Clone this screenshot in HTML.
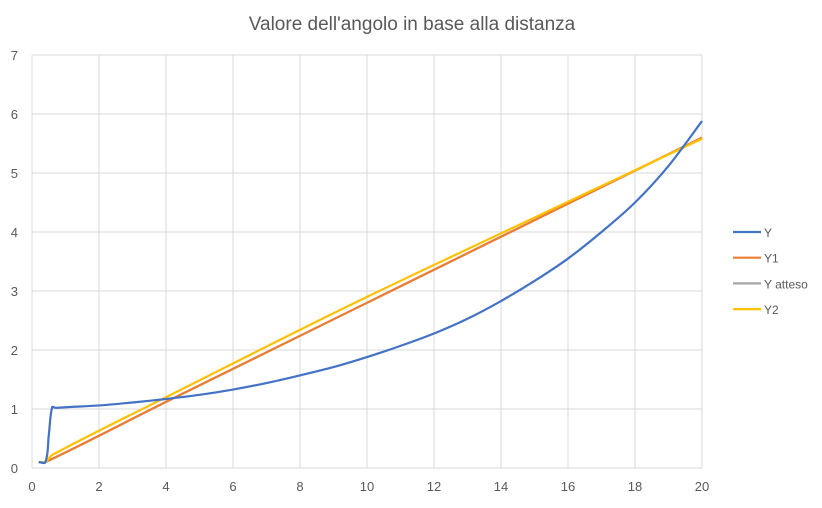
<!DOCTYPE html>
<html><head><meta charset="utf-8"><style>
body{margin:0;background:#fff;font-family:"Liberation Sans",sans-serif}
</style></head><body>
<svg width="822" height="503" id="svg">
<text x="412" y="30" text-anchor="middle" font-size="19" fill="#595959">Valore dell'angolo in base alla distanza</text>
<g id="grid"></g><g id="series"></g><g id="legend"></g>
</svg>
<script>
const xTicks=[0,2,4,6,8,10,12,14,16,18,20];
const yTicks=[0,1,2,3,4,5,6,7];
const seriesNames=["Y","Y1","Y atteso","Y2"];
const seriesColors=["#4472c4","#ed7d31","#a5a5a5","#ffc000"];
const yX=[0.2,0.4,0.5,0.6,0.7,1,2,3,4,5,6,7,8,9,10,11,12,13,14,15,16,17,18,19,20];
const yV=[0.1,0.1,0.55,1.03,1.02,1.03,1.06,1.11,1.17,1.24,1.33,1.44,1.57,1.71,1.88,2.07,2.28,2.53,2.83,3.17,3.55,4.0,4.5,5.12,5.88];
const y1X=[0.2,0.4,4,10,20];
const y1V=[0.1,0.1,1.12,2.8,5.6];
const yaX=[0.2,0.4,4,10,20];
const yaV=[0.1,0.1,1.12,2.8,5.6];
const y2X=[0.2,0.4,0.6,4,10,20];
const y2V=[0.1,0.1,0.22,1.2,2.9,5.58];
const NS="http://www.w3.org/2000/svg";
const sx=v=>32+v*(702-32)/20;
const sy=v=>468-v*(468-55)/7;
const grid=document.getElementById('grid');
function mk(tag,attrs,parent){const e=document.createElementNS(NS,tag);for(const k in attrs)e.setAttribute(k,attrs[k]);parent.appendChild(e);return e;}
xTicks.forEach(t=>{
 const l=mk('line',{x1:sx(t),x2:sx(t),y1:55,y2:468,stroke:'#d9d9d9','stroke-width':1},grid);
 
 
 const tx=mk('text',{x:sx(t),y:491,'text-anchor':'middle','font-size':13,fill:'#595959'},grid);
 tx.textContent=t;
 
 
});
yTicks.forEach(t=>{
 const l=mk('line',{x1:32,x2:702,y1:sy(t),y2:sy(t),stroke:'#d9d9d9','stroke-width':1},grid);
 
 
 const tx=mk('text',{x:18,y:sy(t)+5,'text-anchor':'end','font-size':13,fill:'#595959'},grid);
 tx.textContent=t;
 
 
});
function smooth(pts){
 let d='M'+pts[0][0]+','+pts[0][1];
 const n=pts.length;
 const tang=pts.map((p,i)=>{
  const a=pts[Math.max(0,i-1)],b=pts[Math.min(n-1,i+1)];
  const dx=b[0]-a[0],dy=b[1]-a[1],L=Math.hypot(dx,dy)||1;
  return [dx/L,dy/L];
 });
 for(let i=0;i<n-1;i++){
  const p1=pts[i],p2=pts[i+1];
  const s=Math.hypot(p2[0]-p1[0],p2[1]-p1[1])/3;
  const c1=[p1[0]+tang[i][0]*s,p1[1]+tang[i][1]*s];
  const c2=[p2[0]-tang[i+1][0]*s,p2[1]-tang[i+1][1]*s];
  d+=' C'+c1[0]+','+c1[1]+' '+c2[0]+','+c2[1]+' '+p2[0]+','+p2[1];
 }
 return d;
}
const sg=document.getElementById('series');
const data=[[yX,yV],[y1X,y1V],[yaX,yaV],[y2X,y2V]];
const order=[2,1,3,0];
order.forEach(i=>{
 const [xs,vs]=data[i];
 const pts=xs.map((x,j)=>[sx(x),sy(vs[j])]);
 const p=mk('path',{d:smooth(pts),fill:'none',stroke:seriesColors[i],'stroke-width':2.2,'stroke-linejoin':'round'},sg);
 
 
});
const lg=document.getElementById('legend');
seriesNames.forEach((n,i)=>{
 const y=232+i*25.7;
 const l=mk('line',{x1:733,x2:761,y1:y,y2:y,stroke:seriesColors[i],'stroke-width':2.2},lg);
 
 
 const t=mk('text',{x:764,y:y+5,'font-size':12,fill:'#595959'},lg);
 t.textContent=n;
 
 
});
</script>
</body></html>
